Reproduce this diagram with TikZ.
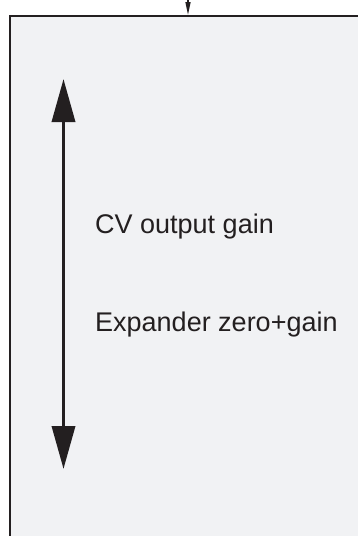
\documentclass[tikz,border=0pt]{standalone}
\usepackage{fontspec}
\setmainfont{Liberation Sans}
\usetikzlibrary{arrows.meta}
\definecolor{panelfill}{HTML}{F1F2F4}
\definecolor{ink}{HTML}{231F20}
\tikzset{
  panelline/.style={draw=ink, line width=2pt, fill=panelfill},
  rangearrow/.style={draw=ink, line width=3.6pt, {Triangle[width=23pt,length=43pt]}-{Triangle[width=23pt,length=43pt]}},
  feedarrow/.style={draw=ink, line width=1.4pt, -{Triangle[width=5pt,length=13pt]}},
  label/.style={anchor=base west, inner sep=0pt, text=ink, font=\fontsize{27pt}{32pt}\selectfont}
}
\begin{document}
\begin{tikzpicture}[x=1pt,y=-1pt]
\useasboundingbox (0,0) rectangle (358,536);
\fill[white] (0,0) rectangle (358,536);
\begin{scope}
\clip (0,0) rectangle (358,536);
\path[panelline] (10,16) rectangle (380,560);
\end{scope}
\coordinate (feedtop) at (188,-2);
\coordinate (feedend) at (188,15);
\draw[feedarrow] (feedtop) -- (feedend);
\coordinate (rangetop) at (63.5,79);
\coordinate (rangebot) at (63.5,469);
\draw[rangearrow] (rangetop) -- (rangebot);
\node[label] (cvgain) at (95,233.3) {CV output gain};
\node[label] (expgain) at (95,331.7) {Expander zero+gain};
\end{tikzpicture}
\end{document}
